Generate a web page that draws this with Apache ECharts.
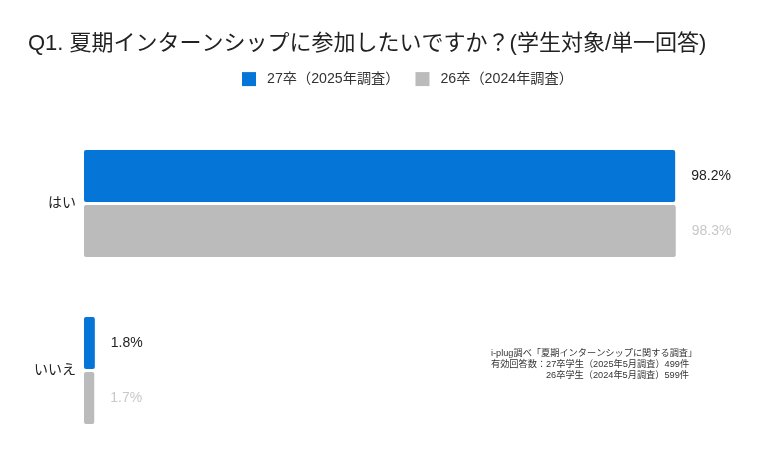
<!DOCTYPE html>
<html><head><meta charset="utf-8">
<script src="https://cdn.jsdelivr.net/npm/echarts@6/dist/echarts.min.js"></script>
<style>html,body{margin:0;padding:0;background:#fff}#c{width:780px;height:464px}</style>
</head><body><div id="c"></div>
<script>
const categories = ['はい', 'いいえ'];
const series27 = [98.2, 1.8];
const series26 = [98.3, 1.7];
const seriesNames = ['27卒（2025年調査）', '26卒（2024年調査）'];
const titleText = 'Q1. 夏期インターンシップに参加したいですか？(学生対象/単一回答)';
const noteLines = ['i-plug調べ「夏期インターンシップに関する調査」', '有効回答数：27卒学生（2025年5月調査）499件', '26卒学生（2024年5月調査）599件'];

const FONT = '"Liberation Sans", "Noto Sans CJK JP", sans-serif';
const chart = echarts.init(document.getElementById('c'));
chart.setOption({
  animation: false,
  textStyle: { fontFamily: FONT },
  title: { text: titleText, left: 23, top: 28, textStyle: { fontSize: 22, fontWeight: 'normal', color: '#222', fontFamily: FONT } },
  legend: {
    top: 72, left: 242, padding: 0, itemWidth: 14, itemHeight: 14, itemGap: 16, icon: 'rect',
    textStyle: { fontSize: 14.2, color: '#333', fontFamily: FONT, padding: [0, 0, 0, 6] },
    data: seriesNames
  },
  grid: { left: 84, right: 94, top: 120, bottom: 10, containLabel: false },
  xAxis: { type: 'value', min: 0, max: 100, show: false },
  yAxis: {
    type: 'category', data: categories, inverse: true,
    axisLine: { show: false }, axisTick: { show: false },
    axisLabel: { fontSize: 14, color: '#222', margin: 8, fontFamily: FONT }
  },
  series: [
    { name: seriesNames[0], type: 'bar', data: series27, barGap: '6%', barCategoryGap: '36%',
      itemStyle: { color: '#0575D8', borderRadius: 2 },
      label: { show: true, position: 'right', distance: 16, fontSize: 14, color: '#222', fontFamily: FONT, formatter: p => p.value.toFixed(1) + '%' } },
    { name: seriesNames[1], type: 'bar', data: series26, barGap: '6%', barCategoryGap: '36%',
      itemStyle: { color: '#BBBBBB', borderRadius: 2 },
      label: { show: true, position: 'right', distance: 16, fontSize: 14, color: '#C8C8C8', fontFamily: FONT, formatter: p => p.value.toFixed(1) + '%' } }
  ],
  graphic: [
    { type: 'text', left: 491, top: 349, style: { text: noteLines[0], fontSize: 9.2, fill: '#333', fontFamily: FONT } },
    { type: 'text', left: 491, top: 360, style: { text: noteLines[1], fontSize: 9.2, fill: '#333', fontFamily: FONT } },
    { type: 'text', left: 546, top: 371, style: { text: noteLines[2], fontSize: 9.2, fill: '#333', fontFamily: FONT } }
  ]
});
</script></body></html>
